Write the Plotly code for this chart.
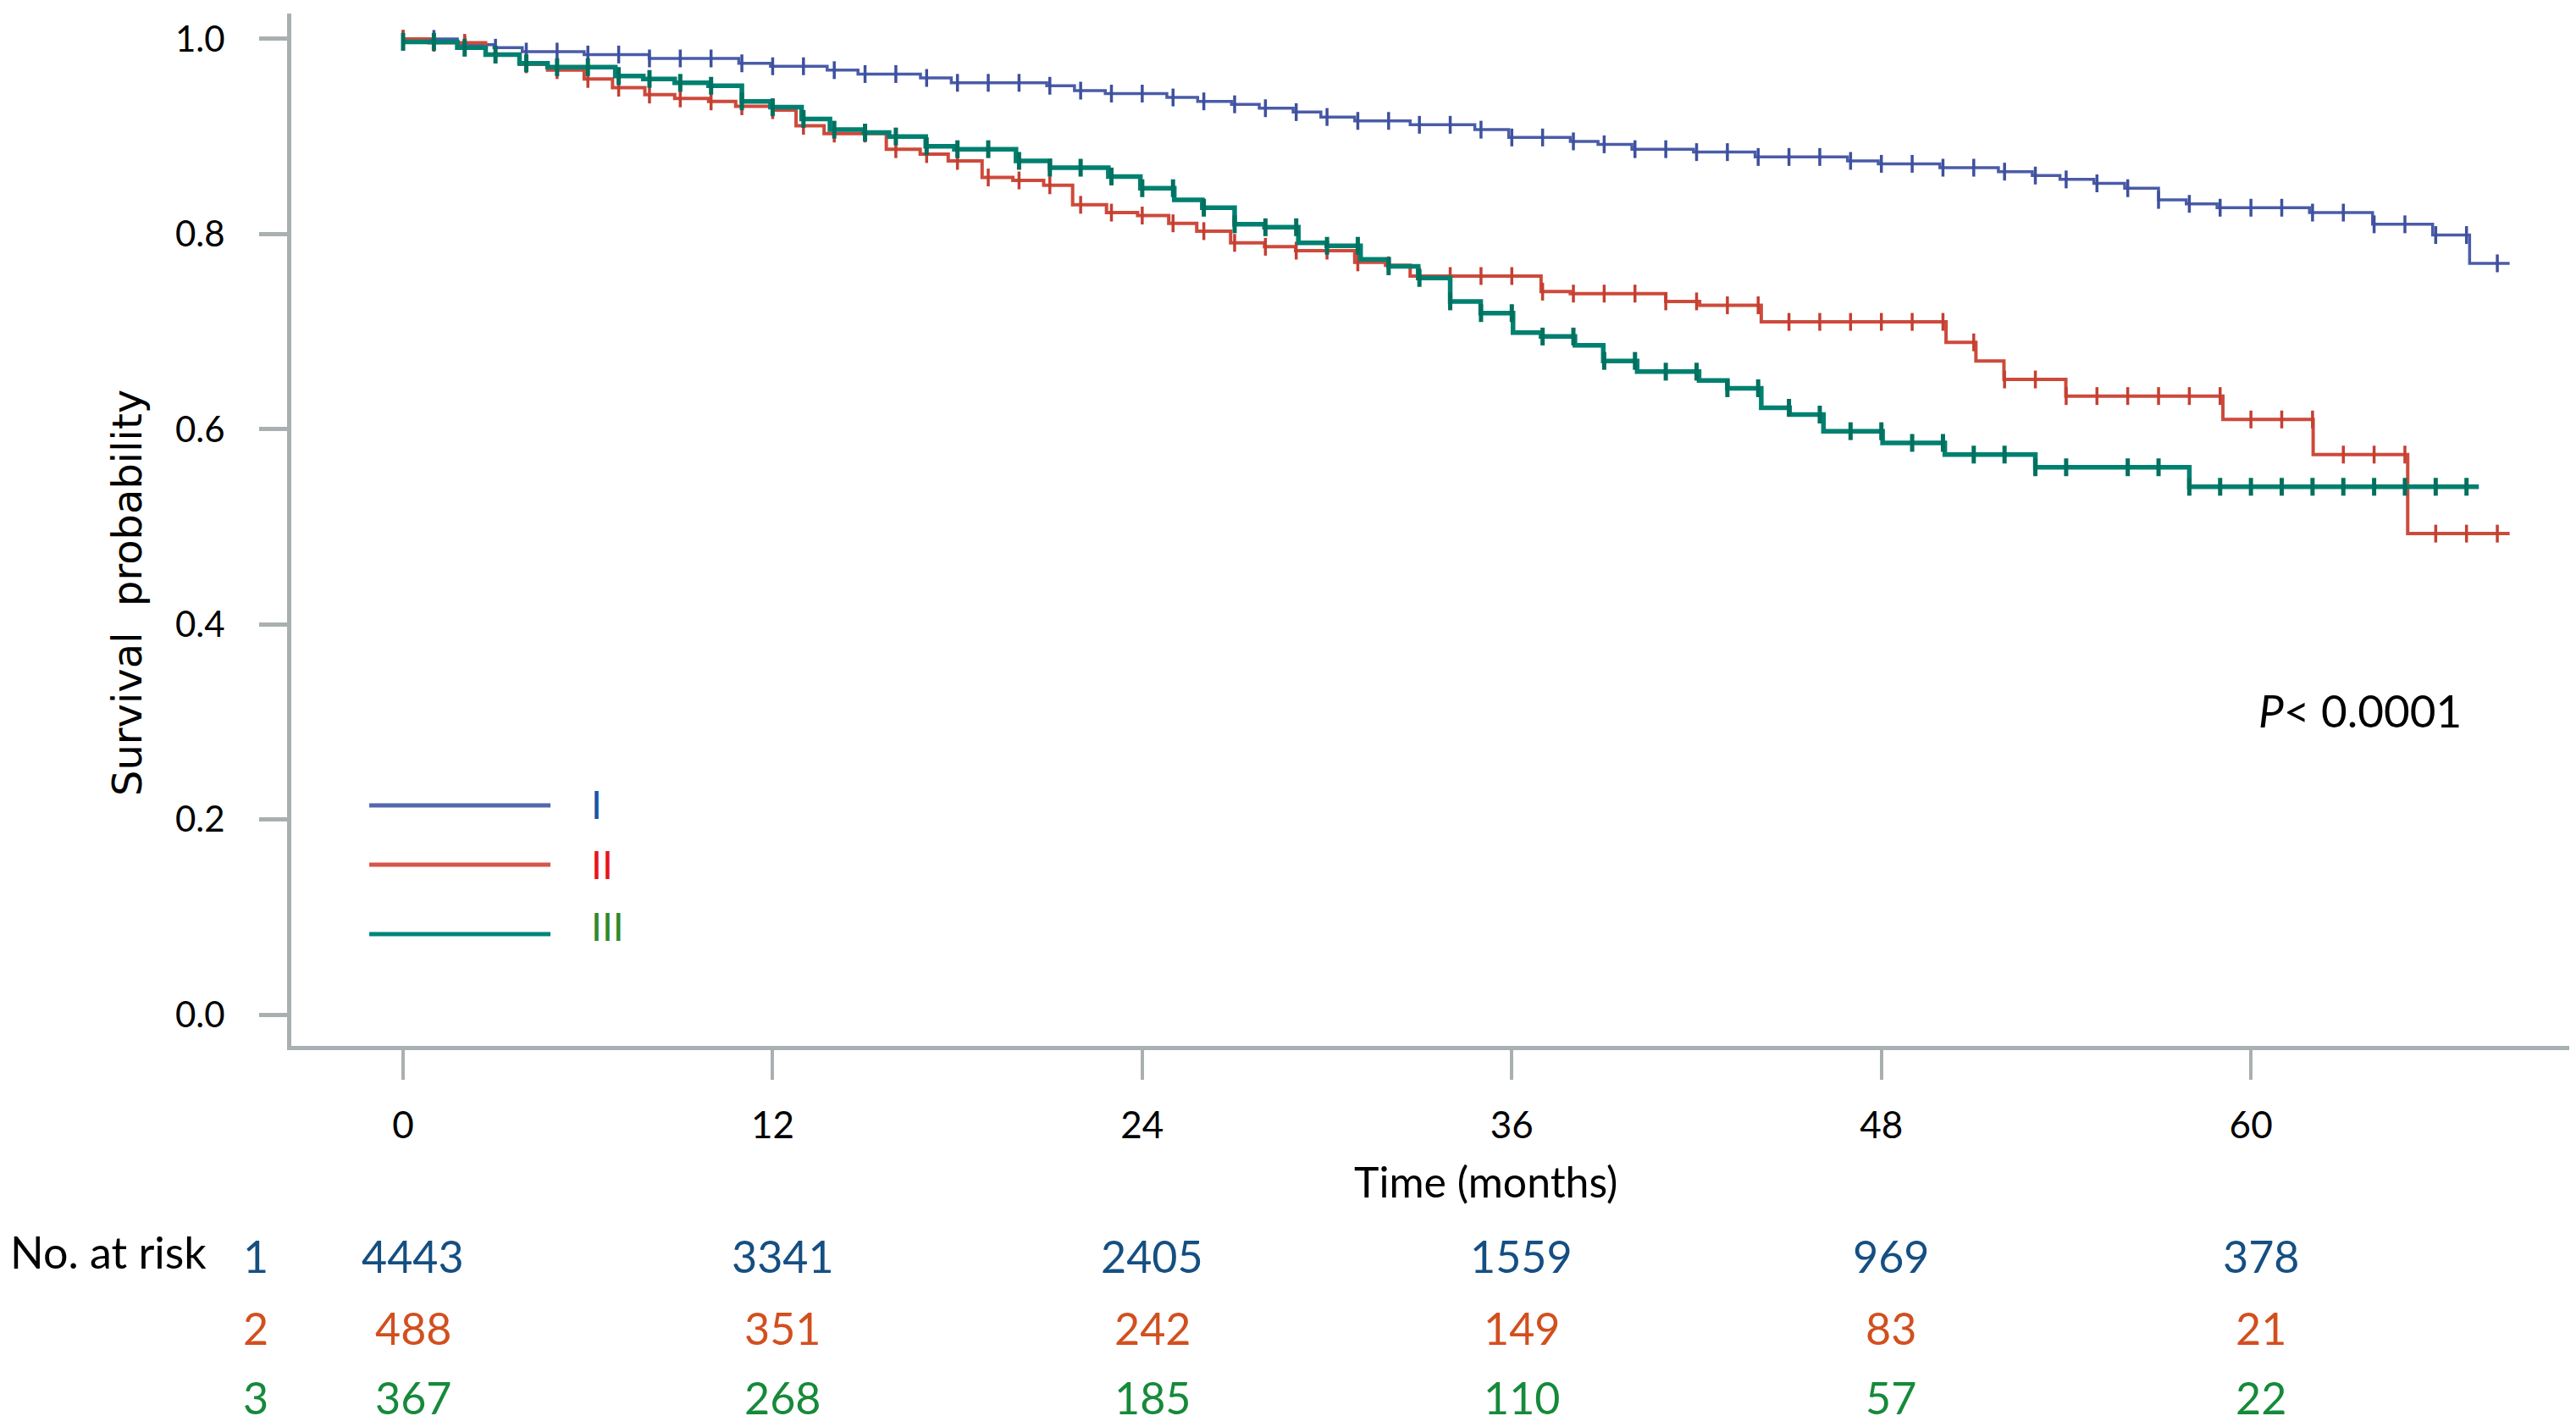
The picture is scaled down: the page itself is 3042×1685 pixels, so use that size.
import numpy as np
import plotly.graph_objects as go

# ---------------- data ----------------
blue_t = [0, 1.76, 2.95, 3.87, 5.88, 7.99, 10.9, 11.93, 13.77, 14.77, 16.8, 17.8, 20.9, 21.8, 22.8,
          24.8, 25.8, 26.9, 27.8, 28.9, 29.8, 30.9, 32.7, 34.8, 35.9, 37.9, 38.8, 39.9, 41.9, 43.9,
          46.9, 47.9, 49.9, 51.8, 52.9, 53.8, 54.9, 55.9, 57.0, 57.9, 58.9, 61.9, 63.95, 65.9, 67.1]
blue_s = [1.0, 0.994, 0.991, 0.987, 0.984, 0.980, 0.975, 0.972, 0.968, 0.964, 0.960, 0.955, 0.952, 0.947, 0.944,
          0.940, 0.936, 0.933, 0.929, 0.925, 0.920, 0.916, 0.912, 0.907, 0.899, 0.895, 0.892, 0.887, 0.884, 0.879,
          0.875, 0.872, 0.868, 0.864, 0.860, 0.856, 0.852, 0.847, 0.835, 0.831, 0.827, 0.822, 0.810, 0.799, 0.770]
blue_end = 68.4
blue_cens = [0, 1, 2, 3, 4, 5, 6, 7, 8, 9, 10, 11, 12, 13, 14, 15, 16, 17, 18, 19, 20, 21, 22, 23, 24,
             25, 26, 27, 28, 29, 30, 31, 32, 33, 34, 35, 36, 37, 38, 39, 40, 41, 42, 43, 44, 45, 46, 47,
             48, 49, 50, 51, 52, 53, 54, 55, 56, 57, 58, 59, 60, 61, 62, 63, 64, 65, 66, 67, 68]

red_t = [0, 0.84, 2.68, 3.78, 4.69, 5.88, 6.8, 7.85, 8.82, 9.92, 10.8, 12.0, 12.76, 13.67, 15.69, 16.79,
         17.7, 18.8, 19.8, 20.8, 21.74, 22.84, 23.85, 24.86, 25.77, 26.87, 27.97, 28.98, 30.9, 31.9, 32.7,
         36.95, 37.9, 41.0, 42.1, 44.1, 50.1, 51.07, 51.98, 53.99, 59.09, 62.02, 65.09]
red_s = [1.0, 0.996, 0.984, 0.974, 0.968, 0.959, 0.950, 0.943, 0.939, 0.936, 0.931, 0.927, 0.911, 0.903, 0.887, 0.882,
         0.875, 0.858, 0.855, 0.850, 0.830, 0.822, 0.819, 0.811, 0.803, 0.791, 0.787, 0.783, 0.771, 0.768, 0.757,
         0.741, 0.739, 0.731, 0.727, 0.710, 0.689, 0.670, 0.651, 0.634, 0.610, 0.574, 0.493]
red_end = 68.4
red_cens = [0, 1, 2, 3, 4, 5, 6, 7, 8, 9, 10, 11, 12, 13, 14, 15, 16, 17, 18, 19, 20, 21, 22, 23, 24,
            25, 26, 27, 28, 29, 30, 31, 32, 33, 34, 35, 36, 37, 38, 39, 40, 41, 42, 43, 44, 45, 46, 47,
            48, 49, 50, 51, 52, 53, 54, 55, 56, 57, 58, 59, 60, 61, 62, 63, 64, 65, 66, 67, 68]

teal_t = [0, 1.76, 2.68, 3.78, 4.69, 6.89, 7.8, 8.82, 9.92, 11.0, 11.93, 12.94, 13.86, 14.96, 15.78, 16.97,
          17.9, 19.9, 21.0, 22.9, 23.94, 25.04, 25.95, 27.0, 27.97, 29.07, 29.99, 31.09, 32.0, 32.96, 34.0,
          34.99, 36.04, 36.95, 38.05, 38.97, 40.07, 42.08, 43.0, 44.1, 45.02, 46.12, 48.04, 50.06, 53.0, 58.0]
teal_s = [0.997, 0.991, 0.984, 0.975, 0.971, 0.962, 0.959, 0.955, 0.952, 0.936, 0.930, 0.918, 0.907, 0.904, 0.900, 0.890,
          0.887, 0.875, 0.868, 0.859, 0.847, 0.835, 0.827, 0.810, 0.807, 0.791, 0.788, 0.774, 0.767, 0.755, 0.731,
          0.719, 0.699, 0.695, 0.686, 0.670, 0.659, 0.650, 0.642, 0.622, 0.615, 0.598, 0.586, 0.574, 0.561, 0.541]
teal_end = 67.4
teal_cens = [0, 1, 2, 3, 4, 5, 6, 7, 8, 9, 10, 11, 12, 13, 14, 15, 16, 17, 18, 19, 20, 21, 22, 23, 24,
             25, 26, 27, 28, 29, 30, 31, 32, 33, 34, 35, 36, 37, 38, 39, 40, 41, 42, 43, 44, 45, 46, 47,
             48, 49, 50, 51, 52, 53, 54, 56, 57, 58, 59, 60, 61, 62, 63, 64, 65, 66, 67]

groups = ["I", "II", "III"]
risk_times = [0, 12, 24, 36, 48, 60]
risk_1 = [4443, 3341, 2405, 1559, 969, 378]
risk_2 = [488, 351, 242, 149, 83, 21]
risk_3 = [367, 268, 185, 110, 57, 22]
x_ticks = [0, 12, 24, 36, 48, 60]
y_ticks = [0.0, 0.2, 0.4, 0.6, 0.8, 1.0]

# ---------------- styles ----------------
C_BLUE, C_RED, C_TEAL = "#4a5ca8", "#cd4a3b", "#008070"
C_MB, C_MR, C_MT = "#3e509e", "#c43f32", "#00705f"
R_BLUE, R_RED, R_GREEN = "#154f82", "#d1501f", "#168a3a"
L_BLUE, L_RED, L_GREEN = "#1656a6", "#e8141c", "#2f8a2a"
AX = "#a9b0b1"
FONT = "Lato"

fig = go.Figure()


def step_value(ts, ss, t):
    i = np.searchsorted(np.asarray(ts), t, side="right") - 1
    return ss[max(i, 0)]


def add_curve(ts, ss, t_end, cens, color, mcolor, lw, mw, name):
    xs = list(ts) + [t_end]
    ys = list(ss) + [ss[-1]]
    fig.add_trace(go.Scatter(x=xs, y=ys, mode="lines", line=dict(color=color, width=lw, shape="hv"),
                             name=name, showlegend=False, hoverinfo="skip"))
    cy = [step_value(ts, ss, c) for c in cens]
    fig.add_trace(go.Scatter(x=cens, y=cy, mode="markers",
                             marker=dict(symbol="line-ns", size=15, line=dict(color=mcolor, width=mw)),
                             showlegend=False, hoverinfo="skip"))


add_curve(blue_t, blue_s, blue_end, blue_cens, C_BLUE, C_MB, 3.5, 3.5, groups[0])
add_curve(red_t, red_s, red_end, red_cens, C_RED, C_MR, 4, 3.5, groups[1])
add_curve(teal_t, teal_s, teal_end, teal_cens, C_TEAL, C_MT, 5.5, 5, groups[2])

# ---------------- legend (drawn) ----------------
leg_y = [0.233, 0.1756, 0.1083]
leg_lab_y = [0.2346, 0.1756, 0.1157]
leg_line_col = ["#5466ae", "#d4574a", "#008579"]
leg_txt_col = [L_BLUE, L_RED, L_GREEN]
for i, g in enumerate(groups):
    fig.add_shape(type="line", xref="paper", yref="paper", x0=0.0342, x1=0.1137, y0=leg_y[i], y1=leg_y[i],
                  line=dict(color=leg_line_col[i], width=5))
    fig.add_annotation(xref="paper", yref="paper", x=0.1308, y=leg_lab_y[i], text=g, showarrow=False,
                       xanchor="left", yanchor="middle", font=dict(family=FONT, size=46, color=leg_txt_col[i]))

# p-value
fig.add_annotation(xref="paper", yref="paper", x=0.8622, y=0.3249, text="<i>P</i>&lt; 0.0001", showarrow=False,
                   xanchor="left", yanchor="middle", font=dict(family=FONT, size=53, color="black"))

# y title
fig.add_annotation(xref="paper", yref="paper", x=-0.072, y=0.439, text="Survival\u00a0 probability",
                   textangle=-90, showarrow=False, xanchor="center", yanchor="middle",
                   font=dict(family="DejaVu Sans", size=48, color="black"))
# x title
fig.add_annotation(xref="paper", yref="paper", x=0.5241, y=-0.1313, text="Time (months)", showarrow=False,
                   xanchor="center", yanchor="middle", font=dict(family=FONT, size=50, color="black"))

# number at risk table
row_y = [-0.2034, -0.2732, -0.3404]
rows = [risk_1, risk_2, risk_3]
row_col = [R_BLUE, R_RED, R_GREEN]
fig.add_annotation(xref="paper", yref="paper", x=-0.1241, y=row_y[0] + 0.004, text="No. at risk", showarrow=False,
                   xanchor="left", yanchor="middle", font=dict(family=FONT, size=52, color="black"))
for r in range(3):
    fig.add_annotation(xref="paper", yref="paper", x=-0.0156, y=row_y[r], text=str(r + 1), showarrow=False,
                       xanchor="center", yanchor="middle", font=dict(family=FONT, size=52, color=row_col[r]))
    for t, v in zip(risk_times, rows[r]):
        fig.add_annotation(xref="x", yref="paper", x=t + 0.32, y=row_y[r], text=str(v), showarrow=False,
                           xanchor="center", yanchor="middle", font=dict(family=FONT, size=52, color=row_col[r]))

fig.update_layout(
    width=3042, height=1685,
    margin=dict(l=336, r=14, t=8, b=458),
    paper_bgcolor="white", plot_bgcolor="white",
    showlegend=False,
    xaxis=dict(range=[-3.63, 70.39], tickvals=x_ticks, ticks="outside", ticklen=35, tickwidth=4,
               tickcolor=AX, showline=True, linecolor=AX, linewidth=5, showgrid=False, zeroline=False,
               tickfont=dict(family=FONT, size=44, color="black"), ticklabelstandoff=16, automargin=False),
    yaxis=dict(range=[-0.032, 1.026], tickvals=y_ticks, tickformat=".1f", ticks="outside", ticklen=33,
               tickwidth=5, tickcolor=AX, showline=True, linecolor=AX, linewidth=5, showgrid=False,
               zeroline=False, tickfont=dict(family=FONT, size=42, color="black"), ticklabelstandoff=32,
               automargin=False),
)

fig.write_html("out.html")
